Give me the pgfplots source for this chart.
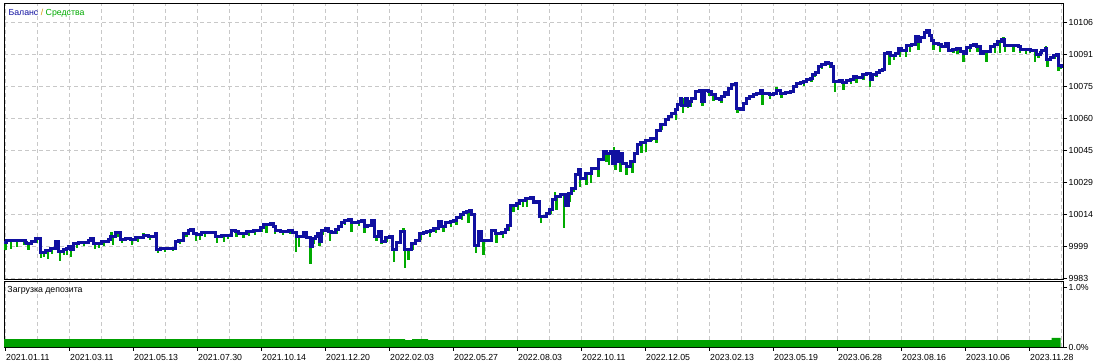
\documentclass[border=0pt]{standalone}
\usepackage{fontspec}
\setmainfont{Liberation Sans}
\usepackage{pgfplots}
\pgfplotsset{compat=1.18}
\usepackage{pgfplotstable}

\definecolor{balblue}{RGB}{16,16,160}
\definecolor{eqgreen}{RGB}{0,170,0}
\definecolor{loadgreen}{RGB}{0,160,0}
\definecolor{gridgray}{RGB}{200,200,200}
\definecolor{slashcol}{RGB}{210,150,0}
\newcommand{\lbl}{\fontsize{8.8}{10}\selectfont}

% balance (step line), x = position along the test
\pgfplotstableread{
x y
4 10000.4
6.7 10001.2
25 10000.4
26 10000.0
31.7 10000.8
35 10002.1
40 9995.6
45 9996.4
50 9997.6
55 10000.8
58.3 9996.0
63.3 9996.8
66.7 9997.6
68.3 9998.4
70.7 9997.2
73.3 10000.0
78.3 10000.5
88.3 10001.6
90.7 10002.4
93.3 10000.0
101.7 10000.8
108.3 10002.0
110 10003.2
115 10005.2
120 10002.0
125 10002.4
130 10002.0
135 10002.9
143.3 10003.6
148.3 10003.2
155 10004.8
156.7 9996.8
160 9997.6
175 10000.8
178.3 10001.6
183.3 10004.8
188.3 10006.4
190 10006.8
193.3 10004.8
196.7 10004.4
201.7 10005.3
215 10003.2
221.7 10004.0
231.7 10006.4
235 10005.6
238.3 10004.8
241.7 10004.5
246.7 10005.6
253.3 10006.4
260 10007.6
263.3 10009.2
270 10009.4
273.3 10008.0
275 10006.4
280 10005.6
288.3 10006.4
292.7 10005.2
296 10003.2
303.3 10005.3
306 10002.9
310 9998.4
312.7 10002.4
315 10003.2
317.7 10004.8
319.3 10000.8
321.7 10006.4
325 10007.2
328.3 10005.6
331.7 10005.2
335 10006.8
338.3 10008.0
341 10010.0
344 10011.2
348.3 10011.6
351.7 10010.0
358.3 10010.4
361.7 10011.2
364 10008.0
367.7 10008.8
371 10011.2
374 10003.2
378.3 10005.6
381.7 10000.8
385 10002.9
389.3 10003.2
392.7 9996.8
396.7 10000.4
400.7 10005.6
404 9996.8
411.7 10000.0
415 10001.6
419.3 10004.5
423.3 10005.2
426.7 10005.6
430 10006.4
433.3 10007.2
438.3 10010.4
441.7 10008.0
445 10010.0
450 10010.4
453.3 10011.2
456.7 10012.5
460 10014.0
463.3 10014.8
466.7 10015.2
469.3 10015.6
471.7 10014.0
474 9998.8
478.3 10005.6
481.7 10001.3
488.3 10001.6
491 10006.4
495 10004.8
501.7 10005.2
505 10006.8
507.3 10008.8
510 10018.0
516.7 10018.9
519.3 10020.5
525 10021.6
530 10022.1
533.3 10019.6
536.7 10020.0
539.5 10012.9
546 10014.5
549 10016.1
552.7 10020.9
555 10022.5
560 10023.6
565 10018.0
568.3 10024.1
571.7 10026.5
575 10032.9
578.3 10035.3
580.7 10031.3
585 10033.7
591.7 10036.1
598.3 10040.1
603.3 10044.1
606.7 10043.3
610.7 10044.1
612.7 10038.5
615 10044.1
618.3 10039.3
620 10043.0
622.7 10038.5
626.7 10036.9
630 10039.3
634 10043.3
637.3 10047.3
640 10048.4
645 10049.2
650 10050.5
656.7 10054.2
660.7 10056.9
665 10059.3
668.3 10060.9
671.7 10062.5
675 10064.1
677.3 10066.8
680 10069.7
681.7 10066.0
685 10069.7
687 10066.0
689.3 10068.1
691.7 10069.7
695 10072.9
699.3 10073.4
701.7 10068.1
704 10073.4
708.3 10072.9
711.7 10071.3
715 10069.7
719.3 10069.2
721.7 10070.5
724 10072.6
726.7 10071.3
728.3 10074.5
731.7 10076.1
735 10076.6
736.7 10064.9
740 10064.4
743.3 10067.3
746.7 10069.7
749.3 10070.5
753.3 10071.3
756.7 10072.1
760 10073.4
762.7 10071.8
766.7 10072.1
769.3 10071.3
773.3 10072.1
776.7 10073.4
780.7 10072.1
785 10072.4
790 10072.9
793.3 10075.3
796.7 10076.6
800.7 10077.2
803.3 10077.7
806 10078.9
810 10079.3
812.7 10080.9
815 10082.1
818.3 10085.0
821.7 10085.7
825 10086.9
828.3 10086.5
831.7 10085.0
833.3 10077.7
839.3 10078.1
842.7 10077.3
846.7 10078.1
850 10078.5
853.3 10080.1
856.7 10079.7
860.7 10079.8
862.7 10080.9
866.7 10081.7
870 10078.5
872.7 10080.9
876 10082.1
879.3 10082.9
882.7 10083.7
884 10091.3
887.3 10091.7
890.7 10090.1
895 10091.3
898.3 10093.7
901.7 10092.5
906.7 10094.9
911.7 10095.3
915 10099.3
918.3 10096.9
920.7 10099.0
924 10101.3
926.7 10102.1
929.3 10099.7
931.7 10097.4
933.3 10095.8
938.3 10095.3
941.7 10094.5
945 10095.8
948.3 10092.6
952.7 10093.3
956.7 10093.7
960 10092.1
963.3 10091.3
966.7 10094.2
970 10094.9
973.3 10095.3
976.7 10094.5
980 10091.3
983.3 10092.1
990 10094.5
994 10095.3
997.3 10096.9
1001.7 10098.1
1004 10094.9
1018.3 10094.5
1020 10093.3
1025 10093.0
1030 10092.6
1036.7 10090.9
1040 10091.8
1041.7 10092.6
1045 10093.7
1046.7 10088.1
1050 10089.4
1053.3 10090.1
1056.7 10090.5
1058.3 10085.3
1061.7 10085.0
1062.5 10085.0
}\balance

% equity excursions: balance level and equity extreme at the same moment
\pgfplotstableread{
x y
5.5 10000.4
5.5 9996.8
nan nan
11 10001.2
11 9997.2
nan nan
17 10001.2
17 9998.4
nan nan
24 10001.2
24 9999.2
nan nan
28.3 10000.0
28.3 9996.8
nan nan
37 10002.1
37 10000.2
nan nan
41 9995.6
41 9992.8
nan nan
44 9995.6
44 9993.6
nan nan
48 9996.4
48 9992.4
nan nan
52 9997.6
52 9995.0
nan nan
60 9996.0
60 9991.7
nan nan
64 9996.8
64 9994.6
nan nan
67 9997.6
67 9994.4
nan nan
71 9997.2
71 9993.3
nan nan
77 10000.0
77 9997.6
nan nan
84 10000.5
84 9998.6
nan nan
95 10000.8
95 9997.2
nan nan
99 10000.8
99 9997.6
nan nan
104 10000.8
104 9998.8
nan nan
111.7 10003.2
111.7 10005.6
nan nan
113 10003.2
113 9999.2
nan nan
118 10005.2
118 10003.2
nan nan
122 10002.0
122 10000.2
nan nan
132 10002.0
132 9999.2
nan nan
138 10002.9
138 10000.8
nan nan
143.3 10003.6
143.3 10005.2
nan nan
150 10003.2
150 10001.4
nan nan
158 9996.8
158 9995.2
nan nan
165 9997.6
165 9996.0
nan nan
173 9997.6
173 9996.4
nan nan
180 10001.6
180 9999.6
nan nan
186.7 10004.8
186.7 10003.2
nan nan
196 10004.8
196 10001.3
nan nan
200 10004.4
200 10001.6
nan nan
205 10005.3
205 10003.2
nan nan
217 10003.2
217 10000.0
nan nan
224 10004.0
224 10000.8
nan nan
228 10004.0
228 10002.0
nan nan
236.7 10005.6
236.7 10003.2
nan nan
243.3 10004.5
243.3 10002.4
nan nan
249 10005.6
249 10003.6
nan nan
255 10006.4
255 10004.0
nan nan
262 10007.6
262 10005.4
nan nan
266.7 10009.2
266.7 10005.2
nan nan
275 10006.4
275 10004.4
nan nan
283 10005.6
283 10004.0
nan nan
290 10006.4
290 10004.4
nan nan
296 10003.2
296 9996.0
nan nan
299 10003.2
299 9998.4
nan nan
310.5 9998.4
310.5 9990.1
nan nan
314 10002.4
314 9999.8
nan nan
319.5 10000.8
319.5 9998.8
nan nan
323 10006.4
323 10004.2
nan nan
330 10005.6
330 10001.3
nan nan
337 10006.8
337 10004.6
nan nan
345 10011.2
345 10009.0
nan nan
351.7 10010.0
351.7 10005.6
nan nan
359 10010.4
359 10008.2
nan nan
364.5 10008.0
364.5 10005.2
nan nan
372 10011.2
372 10009.0
nan nan
376.7 10003.2
376.7 10001.0
nan nan
381.7 10000.8
381.7 9999.7
nan nan
387 10002.9
387 10000.6
nan nan
394 9996.8
394 9991.2
nan nan
403.3 10005.6
403.3 10007.2
nan nan
405 9996.8
405 9988.0
nan nan
408.3 9996.8
408.3 9992.0
nan nan
413 10000.0
413 9997.0
nan nan
416.7 10001.6
416.7 10000.8
nan nan
421 10004.5
421 10001.8
nan nan
430 10006.4
430 10003.2
nan nan
436 10007.2
436 10004.8
nan nan
443.3 10008.0
443.3 10005.6
nan nan
451 10010.4
451 10008.0
nan nan
456.7 10012.5
456.7 10008.8
nan nan
462 10014.0
462 10011.4
nan nan
468.3 10015.2
468.3 10009.6
nan nan
470 10015.6
470 10016.4
nan nan
476 9998.8
476 9995.2
nan nan
483.3 10001.3
483.3 9994.4
nan nan
492 10006.4
492 10003.0
nan nan
496.7 10004.8
496.7 10000.0
nan nan
503 10005.2
503 10002.6
nan nan
508.5 10008.8
508.5 10006.0
nan nan
513.3 10018.0
513.3 10015.2
nan nan
518 10018.9
518 10016.0
nan nan
523 10020.5
523 10017.6
nan nan
527 10021.6
527 10017.3
nan nan
541 10012.9
541 10009.7
nan nan
547 10014.5
547 10012.1
nan nan
551 10016.1
551 10014.2
nan nan
555 10022.5
555 10024.9
nan nan
556.5 10022.5
556.5 10016.0
nan nan
564 10023.6
564 10007.3
nan nan
570 10024.1
570 10020.0
nan nan
573.3 10026.5
573.3 10024.9
nan nan
580 10035.3
580 10027.3
nan nan
586.7 10033.7
586.7 10028.1
nan nan
591 10033.7
591 10028.9
nan nan
598.3 10040.1
598.3 10032.1
nan nan
603.8 10044.1
603.8 10040.0
nan nan
606.7 10043.3
606.7 10039.3
nan nan
609 10043.3
609 10037.7
nan nan
614 10038.5
614 10046.5
nan nan
615.5 10044.1
615.5 10035.3
nan nan
620.5 10043.0
620.5 10034.5
nan nan
626.7 10036.9
626.7 10032.9
nan nan
632.7 10039.3
632.7 10033.7
nan nan
637.8 10047.3
637.8 10042.4
nan nan
641.5 10048.4
641.5 10043.2
nan nan
646 10049.2
646 10044.1
nan nan
651.5 10050.5
651.5 10049.0
nan nan
656.5 10050.5
656.5 10048.4
nan nan
661.5 10056.9
661.5 10054.6
nan nan
669 10060.9
669 10058.6
nan nan
676 10064.1
676 10059.3
nan nan
683 10069.7
683 10062.5
nan nan
688 10066.0
688 10064.9
nan nan
690.5 10068.1
690.5 10065.7
nan nan
696 10072.9
696 10070.4
nan nan
702.7 10068.1
702.7 10066.0
nan nan
709 10072.9
709 10070.6
nan nan
713.3 10071.3
713.3 10068.6
nan nan
721.7 10070.5
721.7 10067.4
nan nan
729 10074.5
729 10072.1
nan nan
737.3 10064.9
737.3 10062.5
nan nan
746 10069.7
746 10067.4
nan nan
754 10071.3
754 10069.6
nan nan
762.7 10071.8
762.7 10066.6
nan nan
770 10071.3
770 10069.5
nan nan
776.7 10073.4
776.7 10075.3
nan nan
781.7 10072.1
781.7 10069.7
nan nan
794 10075.3
794 10073.4
nan nan
804 10077.7
804 10075.8
nan nan
811.7 10079.3
811.7 10077.7
nan nan
815 10082.1
815 10080.1
nan nan
822 10085.7
822 10083.6
nan nan
830 10086.5
830 10084.1
nan nan
835 10077.7
835 10072.9
nan nan
843.3 10077.3
843.3 10073.7
nan nan
851 10078.5
851 10076.4
nan nan
856.7 10079.7
856.7 10076.9
nan nan
863.5 10080.9
863.5 10078.6
nan nan
870 10078.5
870 10075.3
nan nan
876.7 10082.1
876.7 10080.1
nan nan
885 10091.3
885 10092.1
nan nan
889.3 10091.7
889.3 10085.7
nan nan
894 10090.1
894 10088.1
nan nan
900 10093.7
900 10089.7
nan nan
906 10092.5
906 10089.7
nan nan
910 10094.9
910 10092.1
nan nan
918.3 10096.9
918.3 10093.0
nan nan
925 10101.3
925 10098.6
nan nan
933.3 10095.8
933.3 10093.0
nan nan
940 10095.3
940 10092.1
nan nan
946.7 10095.8
946.7 10093.7
nan nan
953.3 10093.3
953.3 10091.3
nan nan
957.5 10093.7
957.5 10091.2
nan nan
963.3 10091.3
963.3 10087.3
nan nan
970 10094.9
970 10092.1
nan nan
977.5 10094.5
977.5 10092.0
nan nan
986.7 10092.1
986.7 10087.3
nan nan
995 10095.3
995 10091.3
nan nan
1000 10096.9
1000 10091.3
nan nan
1003.3 10098.1
1003.3 10099.0
nan nan
1005 10094.9
1005 10092.1
nan nan
1013.3 10094.9
1013.3 10092.1
nan nan
1020 10093.3
1020 10091.3
nan nan
1026 10093.0
1026 10091.0
nan nan
1030 10092.6
1030 10091.3
nan nan
1035 10092.6
1035 10087.3
nan nan
1038.3 10090.9
1038.3 10088.9
nan nan
1046 10093.7
1046 10094.9
nan nan
1047.5 10088.1
1047.5 10084.9
nan nan
1055 10090.1
1055 10088.5
nan nan
1058.8 10085.3
1058.8 10083.0
nan nan
1061 10085.0
1061 10083.7
}\equity

\begin{document}
\begin{tikzpicture}
\pgfplotsset{
  mtframe/.style={
    scale only axis,
    width=1059.5bp,
    xmin=4, xmax=1063.5,
    axis line style={line width=1bp, black},
    xtick={5,69,...,1029},
    minor xtick={37,101,...,1061},
    xmajorgrids, xminorgrids,
    grid style={gridgray, dash pattern=on 4bp off 3bp, line width=0.8bp},
    minor tick length=0pt,
    major tick length=3.5bp,
    tick align=outside,
    tick style={black, line width=0.8bp},
    scaled y ticks=false, scaled x ticks=false,
    ytick pos=right, yticklabel pos=right,
    yticklabel style={anchor=west, inner sep=0pt, xshift=1.5bp, font=\lbl},
  }
}
\begin{axis}[mtframe,
  at={(4bp,-4bp)}, anchor=north west,
  height=275bp,
  ymin=9982.86, ymax=10115.0,
  xticklabels={},
  xtick style={draw=none},
  ytick={9983.2,9998.575,10013.95,10029.325,10044.7,10060.075,10075.45,10090.825,10106.2},
  yticklabels={9983,9999,10014,10029,10045,10060,10075,10091,10106},
  ymajorgrids,
]
\addplot[eqgreen, line width=2.8bp, unbounded coords=jump, line cap=butt] table {\equity};
\addplot[balblue, line width=3bp, const plot, line join=miter] table {\balance};
\node[anchor=west, inner sep=0pt, font=\lbl] at (axis description cs:0.0041,0.966)
  {\textcolor{balblue}{Баланс} \textcolor{slashcol}{/} \textcolor{eqgreen}{Средства}};
\end{axis}

\begin{axis}[mtframe,
  at={(4bp,-281.5bp)}, anchor=north west,
  height=65.5bp,
  ymin=0, ymax=1.105,
  xtick pos=bottom,
  xticklabels={2021.01.11,2021.03.11,2021.05.13,2021.07.30,2021.10.14,2021.12.20,2022.02.03,2022.05.27,2022.08.03,2022.10.11,2022.12.05,2023.02.13,2023.05.19,2023.06.28,2023.08.16,2023.10.06,2023.11.28},
  xticklabel style={anchor=north west, inner sep=0pt, xshift=1bp, yshift=-4bp, font=\lbl},
  ytick={0,1},
  yticklabels={0.0\%,1.0\%},
]
\addplot[const plot, fill=loadgreen, draw=none] coordinates {
 (4,0.135) (405,0.118) (412,0.135) (428,0.118) (1051.5,0.152) (1060.5,0.152)} \closedcycle;
\node[anchor=west, inner sep=0pt, font=\lbl] at (axis description cs:0.0031,0.87)
  {Загрузка депозита};
\end{axis}
\pgfresetboundingbox
\path[use as bounding box] (0,0) rectangle (1109bp,-364bp);
\end{tikzpicture}
\end{document}
